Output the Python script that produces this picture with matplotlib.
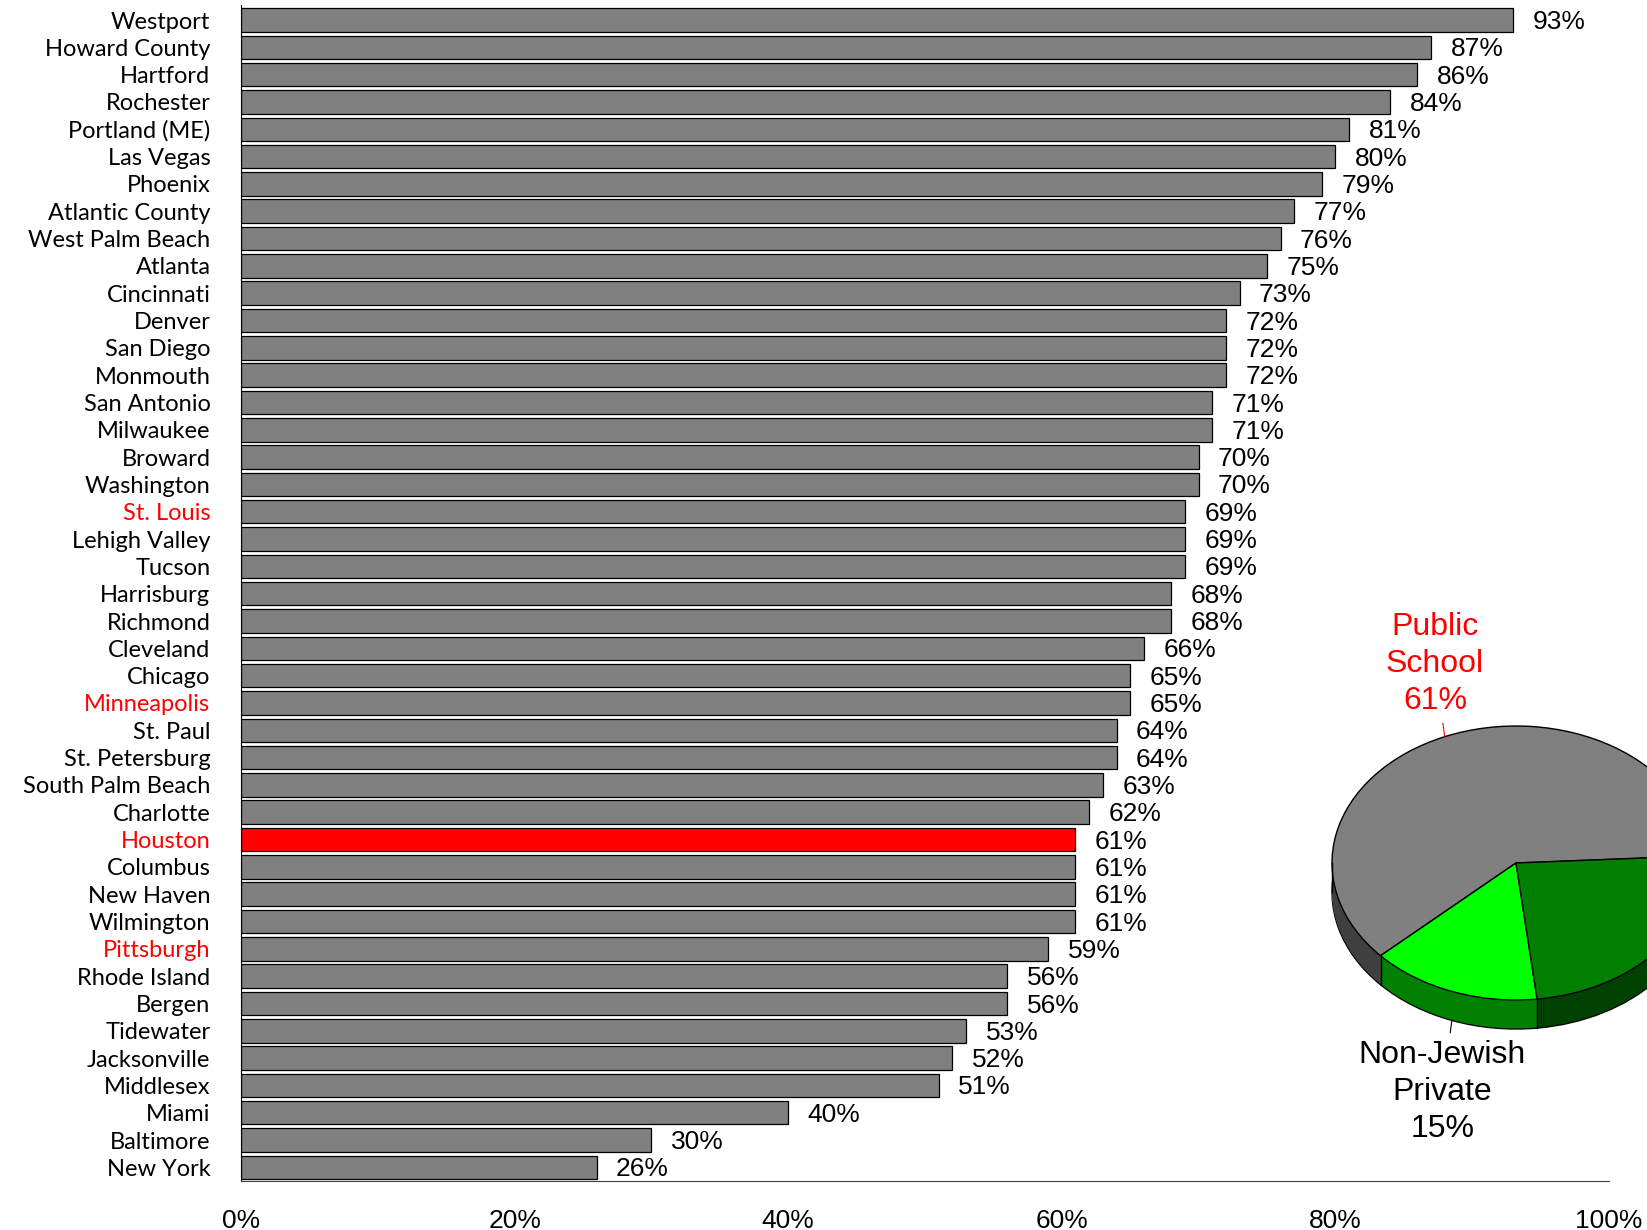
import numpy as np
import matplotlib
matplotlib.use("Agg")
import matplotlib.pyplot as plt

# data
cities = ["Westport", "Howard County", "Hartford", "Rochester", "Portland (ME)",
          "Las Vegas", "Phoenix", "Atlantic County", "West Palm Beach", "Atlanta",
          "Cincinnati", "Denver", "San Diego", "Monmouth", "San Antonio",
          "Milwaukee", "Broward", "Washington", "St. Louis", "Lehigh Valley",
          "Tucson", "Harrisburg", "Richmond", "Cleveland", "Chicago",
          "Minneapolis", "St. Paul", "St. Petersburg", "South Palm Beach", "Charlotte",
          "Houston", "Columbus", "New Haven", "Wilmington", "Pittsburgh",
          "Rhode Island", "Bergen", "Tidewater", "Jacksonville", "Middlesex",
          "Miami", "Baltimore", "New York"]
public_pct = [93, 87, 86, 84, 81, 80, 79, 77, 76, 75, 73, 72, 72, 72, 71, 71, 70, 70,
              69, 69, 69, 68, 68, 66, 65, 65, 64, 64, 63, 62, 61, 61, 61, 61, 59,
              56, 56, 53, 52, 51, 40, 30, 26]
red_labels = ["St. Louis", "Minneapolis", "Houston", "Pittsburgh"]
highlight = "Houston"
xticks = [0, 20, 40, 60, 80, 100]

# Houston pie: public, non-jewish private, jewish day school
pie_names = ["Public\nSchool", "Non-Jewish\nPrivate", "Jewish Day\nSchool"]
pie_values = [61, 15, 24]
pie_top = ["#808080", "#00FF00", "#008000"]
pie_side = ["#404040", "#008000", "#004000"]

W, H = 1647, 1230
fig = plt.figure(figsize=(W / 100, H / 100), dpi=100)

num_font = ["Liberation Sans Narrow", "Liberation Sans", "DejaVu Sans"]
cat_font = ["Lato", "DejaVu Sans"]

ax = fig.add_axes([241 / W, 1 - 1181 / H, (1609 - 241) / W, (1181 - 5) / H])
y = np.arange(len(cities))
colors = ["#FF0000" if c == highlight else "#808080" for c in cities]
ax.barh(y, public_pct, height=0.86, color=colors, edgecolor="black", linewidth=0.9)
ax.set_xlim(0, 100)
ax.set_ylim(len(cities) - 0.5, -0.55)
ax.set_yticks(y)
ax.set_yticklabels(cities, family=cat_font, fontsize=17)
for lbl in ax.get_yticklabels():
    if lbl.get_text() in red_labels:
        lbl.set_color("#FF0000")
ax.set_xticks(xticks)
ax.set_xticklabels([f"{t}%" for t in xticks], family=num_font, fontsize=19)
ax.tick_params(axis="y", length=0, pad=22)
ax.tick_params(axis="x", length=0, pad=20)
for s in ["top", "right"]:
    ax.spines[s].set_visible(False)
ax.spines["left"].set_color("black")
ax.spines["bottom"].set_color("#404040")

for yi, v in zip(y, public_pct):
    ax.annotate(f"{v}%", (v, yi), xytext=(14, -1.5), textcoords="offset points",
                ha="left", va="center", family=num_font, fontsize=19)

# pseudo-3D pie
a, b, depth = 184, 137, 29
cx, cy = 1516, H - 863
pax = fig.add_axes([(cx - 1.25 * a) / W, (cy - 2.0 * b) / H, 2.5 * a / W, 3.3 * b / H])
pax.axis("off")
start = 3
dz = depth / b
pax.pie(pie_values, colors=pie_side, startangle=start, center=(0, -dz),
        wedgeprops=dict(edgecolor="black", linewidth=1.0))
for d in np.linspace(dz, 0, 40)[1:]:
    pax.pie(pie_values, colors=pie_side, startangle=start, center=(0, -d),
            wedgeprops=dict(edgecolor="none", linewidth=0))
pax.pie(pie_values, colors=pie_top, startangle=start,
        wedgeprops=dict(edgecolor="black", linewidth=1.0))
pax.set_aspect("auto")
pax.set_xlim(-1.25, 1.25)
pax.set_ylim(-2.0, 1.3)

bounds = start + np.cumsum([0] + pie_values) * 3.6
for ang in list(bounds) + [180]:
    t = np.deg2rad(ang)
    if np.sin(t) < 0 or abs(ang - 180) < 1e-6:
        pax.plot([np.cos(t), np.cos(t)], [np.sin(t), np.sin(t) - dz], color="black", lw=1.0)

mids = (bounds[:-1] + bounds[1:]) / 2
lab_font = ["Liberation Sans", "DejaVu Sans"]
# public school label (above)
t = np.deg2rad(mids[0])
pax.annotate(f"{pie_names[0]}\n{pie_values[0]}%", (np.cos(t), np.sin(t)),
             xytext=(-0.44, 1.45), ha="center", va="center", color="#FF0000",
             family=lab_font, fontsize=23, linespacing=1.3,
             arrowprops=dict(arrowstyle="-", color="#FF0000", lw=0.8, shrinkA=3, shrinkB=0),
             annotation_clip=False)
# non-jewish private label (below)
t = np.deg2rad(mids[1])
pax.annotate(f"{pie_names[1]}\n{pie_values[1]}%", (np.cos(t), np.sin(t) - dz),
             xytext=(-0.40, -1.67), ha="center", va="center", color="black",
             family=lab_font, fontsize=23, linespacing=1.3,
             arrowprops=dict(arrowstyle="-", color="black", lw=0.8, shrinkA=3, shrinkB=0),
             annotation_clip=False)

fig.savefig("out.png", dpi=100)
